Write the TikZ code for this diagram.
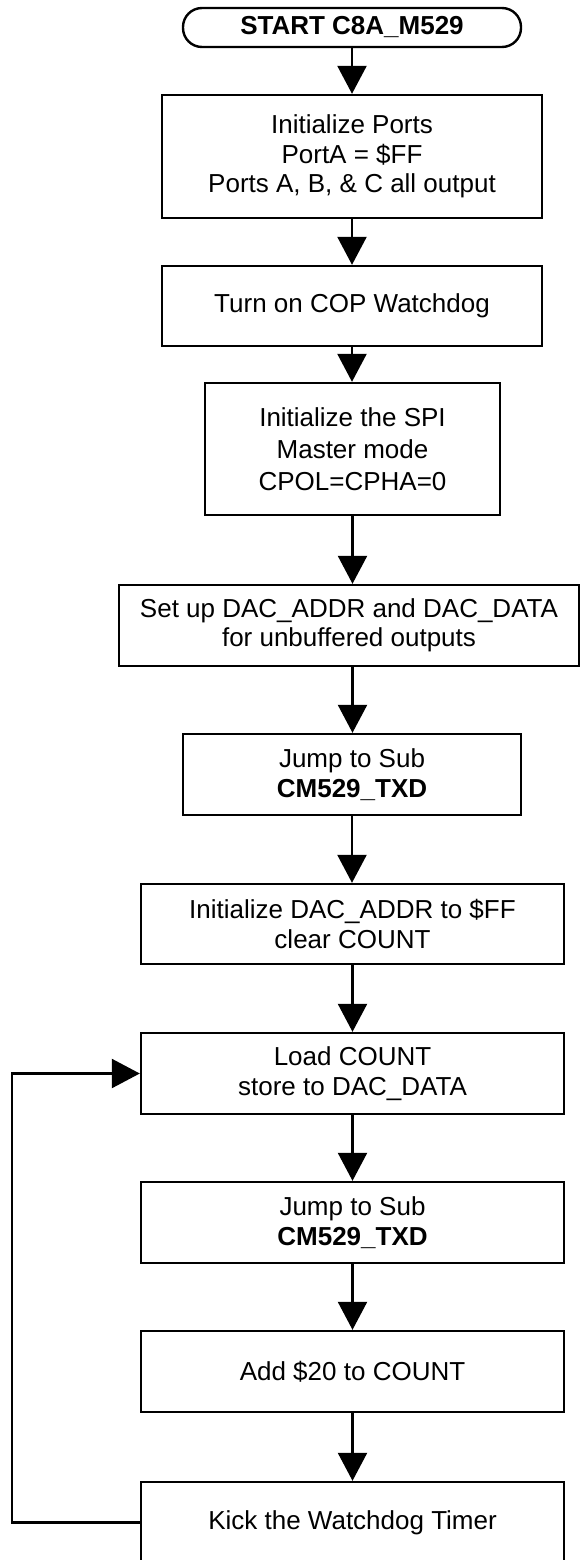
\documentclass[tikz,border=0pt]{standalone}
\usepackage{fontspec}
\setmainfont{Liberation Sans}
\usetikzlibrary{arrows.meta}
\begin{document}
\begin{tikzpicture}[x=1pt,y=-1pt,
  every node/.style={font=\fontsize{26}{29.5}\selectfont},
  box/.style={draw, line width=2.4pt, align=center, inner sep=0pt},
  startbox/.style={draw, line width=2.4pt, rounded corners=19pt, inner sep=0pt},
  flow/.style={line width=2.4pt, -{Triangle[length=28pt,width=29pt]}}
]
\useasboundingbox (0,0) rectangle (580,1560);

% program steps
\node[startbox, minimum width=338pt, minimum height=39pt] (start) at (352,27.5)
  {\textbf{START C8A\_M529}\hspace{38pt}};
\node[box, minimum width=380pt, minimum height=123pt] (b1) at (352,156.5)
  {Initialize Ports\\PortA = \$FF\\Ports A, B, \& C all output};
\node[box, minimum width=380pt, minimum height=80pt] (b2) at (352,306)
  {Turn on COP Watchdog};
\node[box, minimum width=295pt, minimum height=132pt,
      font=\fontsize{26}{32}\selectfont] (b3) at (352.5,449)
  {Initialize the SPI\\Master mode\\CPOL=CPHA=0};
\node[box, minimum width=460pt, minimum height=81pt] (b4) at (349,625.5)
  {Set up DAC\_ADDR and DAC\_DATA\\for unbuffered outputs};
\node[box, minimum width=338pt, minimum height=81pt] (b5) at (352,774.5)
  {Jump to Sub\\\textbf{CM529\_TXD}};
\node[box, minimum width=423pt, minimum height=80pt] (b6) at (352.5,924)
  {Initialize DAC\_ADDR to \$FF\\clear COUNT};
\node[box, minimum width=423pt, minimum height=81pt] (b7) at (352.5,1073.5)
  {Load COUNT\\store to DAC\_DATA};
\node[box, minimum width=423pt, minimum height=81pt] (b8) at (352.5,1222.5)
  {Jump to Sub\\\textbf{CM529\_TXD}};
\node[box, minimum width=423pt, minimum height=81pt] (b9) at (352.5,1371.5)
  {Add \$20 to COUNT};
\node[box, minimum width=423pt, minimum height=81pt] (b10) at (352.5,1522.5)
  {Kick the Watchdog Timer};

% straight-down flow
\draw[flow] (start.south) -- (start.south |- b1.north);
\draw[flow] (b1.south) -- (b2.north);
\draw[flow] (b2.south) -- (b2.south |- b3.north);
\draw[flow] (b3.south) -- (b3.south |- b4.north);
\draw[flow] (b3.south |- b4.south) -- (b3.south |- b5.north);
\draw[flow] (b5.south) -- (b5.south |- b6.north);
\draw[flow] (b6.south) -- (b7.north);
\draw[flow] (b7.south) -- (b8.north);
\draw[flow] (b8.south) -- (b9.north);
\draw[flow] (b9.south) -- (b10.north);

% loop back
\coordinate (loop) at (12,1300);
\draw[flow] (b10.west) -- (b10.west -| loop) |- (b7.west);
\end{tikzpicture}
\end{document}
